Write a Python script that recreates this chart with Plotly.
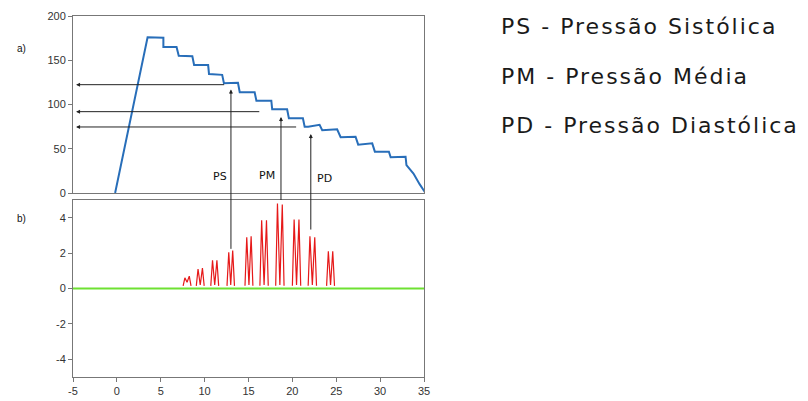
import plotly.graph_objects as go

# ---- data ----
pressure_t = [-0.2, 3.5, 5.3, 5.3, 6.8, 7.05, 8.6, 8.8, 10.4, 10.5, 12.0, 12.2, 13.8, 14.0,
              15.7, 15.9, 17.6, 17.7, 19.4, 19.6, 21.2, 21.4, 21.8, 23.1, 23.4, 25.1, 25.5,
              27.2, 27.5, 29.1, 29.4, 31.0, 31.2, 32.9, 33.0, 33.8, 34.5, 35.1]
pressure_v = [0, 176, 175.5, 165, 165, 155, 154.5, 144.6, 144.6, 134.5, 133.5, 124, 124.5, 113.8,
              113.8, 104.3, 104.3, 94.5, 94.5, 84.4, 84.4, 75, 75, 77, 71, 72, 63,
              63.6, 54.6, 56.1, 46.7, 46.7, 40.3, 41, 31.6, 22, 10, 1]

peak_x = [7.75, 8.25, 9.25, 9.75, 10.9, 11.4, 12.75, 13.2, 14.8, 15.3, 16.5, 17.05,
          18.3, 18.85, 20.2, 20.75, 22.0, 22.55, 24.1, 24.6]
peak_h = [0.6, 0.7, 1.1, 1.15, 1.6, 1.6, 2.05, 2.15, 2.9, 2.95, 3.85, 3.85,
          4.8, 4.75, 3.9, 3.9, 2.95, 2.9, 2.1, 2.1]
pulse_base = 0.15

levels_name = ["PS", "PM", "PD"]
levels_p = [122.4, 91.9, 74.6]          # mmHg read on the top chart
levels_line_end = [12.4, 16.4, 20.6]    # where the horizontal arrows start
levels_t = [13.0, 18.7, 22.1]           # time of the vertical arrows
levels_tip = [117, 86, 66.7]            # tip of vertical arrows (top chart)
levels_osc = [2.24, 5.0, 3.33]          # start of vertical arrows (bottom chart)
label_t = [11.7, 17.15, 23.66]
label_p = [18.4, 19.5, 16.6]

top_ticks = [0, 50, 100, 150, 200]
bot_yticks = [-4, -2, 0, 2, 4]
bot_xticks = [-5, 0, 5, 10, 15, 20, 25, 30, 35]

legend_lines = ["PS - Pressão Sistólica", "PM - Pressão Média", "PD - Pressão Diastólica"]

# page body has an 8px margin: figure is drawn 8px in from the window corner
OFF = 8
W, H = 808 - OFF, 401 - OFF


def sx(px):
    return (px - OFF) / W


def sy(py):
    return (H - (py - OFF)) / H


x_dom = [sx(73), sx(424)]
top_dom = [sy(193), sy(16)]
bot_dom = [sy(377), sy(200)]

# build pulse polyline
px, py = [], []
hw = 0.2
for i in range(0, len(peak_x), 2):
    a, b = peak_x[i], peak_x[i + 1]
    px += [a - hw, a, (a + b) / 2, b, b + hw, None]
    py += [pulse_base, peak_h[i], pulse_base + (0.2 if i == 0 else 0.05), peak_h[i + 1], pulse_base, None]

fig = go.Figure()
fig.add_trace(go.Scatter(x=pressure_t, y=pressure_v, mode="lines",
                         line=dict(color="rgb(40,110,185)", width=2), xaxis="x", yaxis="y",
                         showlegend=False, hoverinfo="skip"))
fig.add_trace(go.Scatter(x=[-5, 35], y=[0, 0], mode="lines",
                         line=dict(color="rgb(110,225,50)", width=2), xaxis="x2", yaxis="y2",
                         showlegend=False, hoverinfo="skip"))
fig.add_trace(go.Scatter(x=px, y=py, mode="lines", connectgaps=False,
                         line=dict(color="rgb(230,25,25)", width=1.2), xaxis="x2", yaxis="y2",
                         showlegend=False, hoverinfo="skip"))

axis_common = dict(showgrid=False, zeroline=False, showline=True, linecolor="#777",
                   linewidth=1, mirror=True, ticks="outside", ticklen=4, tickcolor="#777",
                   tickfont=dict(family="Liberation Sans, Arial", size=11, color="#333"),
                   automargin=False)

fig.update_layout(
    width=W, height=H, margin=dict(l=0, r=0, t=0, b=0),
    paper_bgcolor="white", plot_bgcolor="white",
    xaxis=dict(axis_common, domain=x_dom, range=[-5, 35], anchor="y", showticklabels=False,
               ticks=""),
    yaxis=dict(axis_common, domain=top_dom, range=[0, 200], tickvals=top_ticks,
               ticktext=[str(v) for v in top_ticks], anchor="x"),
    xaxis2=dict(axis_common, domain=x_dom, range=[-5, 35], anchor="y2",
                tickvals=bot_xticks, ticktext=[str(v) for v in bot_xticks]),
    yaxis2=dict(axis_common, domain=bot_dom, range=[-5, 5], tickvals=bot_yticks,
                ticktext=[str(v) for v in bot_yticks], anchor="x2"),
)


def bot_paper(v):
    return bot_dom[0] + (v + 5) / 10 * (bot_dom[1] - bot_dom[0])


def top_paper(v):
    return top_dom[0] + v / 200 * (top_dom[1] - top_dom[0])


shapes = []
annotations = []
for i, name in enumerate(levels_name):
    annotations.append(dict(xref="x", yref="y", x=-4.65, y=levels_p[i],
                            axref="x", ayref="y", ax=levels_line_end[i], ay=levels_p[i],
                            text="", showarrow=True, arrowhead=2, arrowsize=0.8,
                            arrowwidth=1, arrowcolor="#222"))
    shapes.append(dict(type="line", xref="x", yref="paper",
                       x0=levels_t[i], x1=levels_t[i],
                       y0=bot_paper(levels_osc[i]), y1=top_paper(levels_tip[i]) - 0.01,
                       line=dict(color="#222", width=1)))
    annotations.append(dict(xref="x", yref="y", x=levels_t[i], y=levels_tip[i],
                            ax=0, ay=6, text="", showarrow=True, arrowhead=2,
                            arrowsize=0.8, arrowwidth=1, arrowcolor="#222"))
    annotations.append(dict(xref="x", yref="y", x=label_t[i], y=label_p[i], text=name,
                            showarrow=False,
                            font=dict(family="DejaVu Sans", size=11, color="#111")))

annotations.append(dict(xref="paper", yref="paper", x=sx(15), y=sy(41), text="a)",
                        showarrow=False, font=dict(family="Liberation Sans, Arial", size=10,
                                                   color="#111")))
annotations.append(dict(xref="paper", yref="paper", x=sx(15), y=sy(218), text="b)",
                        showarrow=False, font=dict(family="Liberation Sans, Arial", size=10,
                                                   color="#111")))

for i, t in enumerate(legend_lines):
    annotations.append(dict(xref="paper", yref="paper", x=sx(499), y=sy(26.5 + 49.5 * i),
                            xanchor="left", yanchor="middle",
                            text='<span style="letter-spacing:2.0px">' + t + "</span>",
                            showarrow=False,
                            font=dict(family="DejaVu Sans", size=22, color="#1a1a1a")))

fig.update_layout(shapes=shapes, annotations=annotations)
fig.write_html("out.html")
